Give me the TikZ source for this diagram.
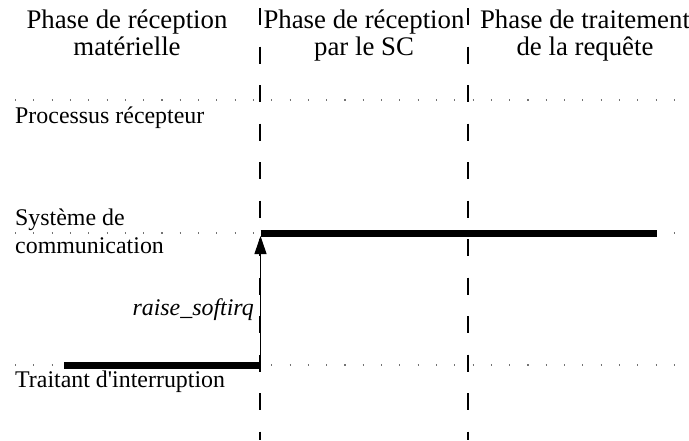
\documentclass[tikz,border=0pt]{standalone}
\usepackage{fontspec}
\setmainfont{Liberation Serif}
\usetikzlibrary{arrows.meta}
\begin{document}
\begin{tikzpicture}[x=1pt,y=-1pt,
  lane/.style={black!55, line width=1.1pt, dash pattern=on 1.1pt off 17.2pt},
  phaseline/.style={line width=1.2pt, dash pattern=on 17pt off 21.5pt},
  activity/.style={line width=7pt},
  head/.style={font=\fontsize{26.8}{27}\selectfont, align=center, inner sep=0pt, anchor=base},
  lbl/.style={font=\fontsize{23.9}{28}\selectfont, align=left, inner sep=0pt, anchor=base west},
  trig/.style={-{Triangle[length=18pt,width=12pt]}, line width=1pt}]
\useasboundingbox (0,0) rectangle (689,440);
% lanes
\draw[lane] (15,100) -- (689,100);
\draw[lane] (15,233) -- (689,233);
\draw[lane] (15,365) -- (689,365);
% phase separators
\draw[phaseline] (260,8) -- (260,440);
\draw[phaseline] (468,8) -- (468,440);
% headers (anchor = baseline of last line)
\node[head] (h1) at (127,55) {Phase de réception\\matérielle};
\node[head] (h2) at (364,55) {Phase de réception\\par le SC};
\node[head] (h3) at (585,55) {Phase de traitement\\de la requête};
% lane labels
\node[lbl] (pr) at (15,123) {Processus récepteur};
\node[lbl] (sc) at (15,253) {Système de\\communication};
\node[lbl] (ti) at (15,387) {Traitant d\textquotesingle interruption};
% activities
\coordinate (ti0) at (64,365);
\coordinate (ti1) at (260.5,365);
\coordinate (sc0) at (260.5,233);
\coordinate (sc1) at (657,233);
\draw[activity] (ti0) -- (ti1);
\draw[activity] (sc0) -- (sc1);
\draw[trig] (ti1) -- ([yshift=-3pt]sc0);
\node[font=\fontsize{23.9}{28}\itshape, anchor=base east, inner sep=0pt] (rs) at (254,315) {raise\_softirq};
\end{tikzpicture}
\end{document}
